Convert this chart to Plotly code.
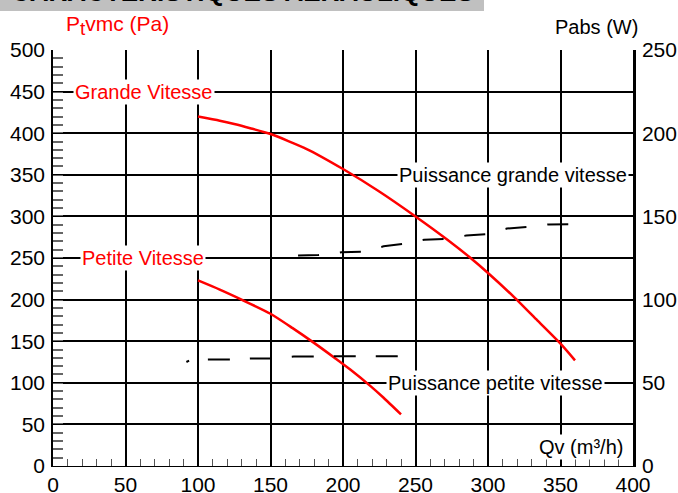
import plotly.graph_objects as go

# ---- data ----
flow_gv = [100, 115, 125, 136, 150, 175, 200, 225, 250, 272, 288, 300, 318, 334, 350, 360]
pt_gv = [420, 415, 411, 406, 399, 381, 357, 330, 300, 272, 250, 232, 203, 175, 147, 127]

flow_pv = [100, 115, 130, 150, 165, 180, 195, 205, 219, 228, 240]
pt_pv = [223, 212, 200, 183, 166, 148, 129, 116, 96, 82, 62]

flow_pw_gv = [169, 183, 199, 214, 228, 242, 256, 272, 285, 299, 313, 328, 342, 356]
pabs_gv = [126.5, 126.8, 128.5, 128.8, 132, 133.5, 136, 136.5, 138.5, 139.3, 142.7, 143.7, 145.2, 145.3]

flow_pw_pv = [92, 95, 108, 123, 137, 153, 166, 182, 195, 211, 223, 239]
pabs_pv = [62.5, 63.8, 64, 64, 64.6, 64.6, 65.8, 66, 66, 66, 66, 66]

x_ticks = [0, 50, 100, 150, 200, 250, 300, 350, 400]
y_ticks = [0, 50, 100, 150, 200, 250, 300, 350, 400, 450, 500]
y2_ticks = [0, 50, 100, 150, 200, 250]

FONT = "Liberation Sans, Arial, sans-serif"
RED = "#ff0000"

W, H = 678, 493
ML, MR, MT, MB = 53, 45, 50, 27
PW, PH = W - ML - MR, H - MT - MB


def px_to_paper_x(px):
    return (px - ML) / PW


def py_to_paper_y(py):
    return (H - MB - py) / PH


fig = go.Figure()
fig.add_trace(go.Scatter(x=flow_gv, y=pt_gv, mode="lines",
                         line=dict(color=RED, width=2.5, shape="spline", smoothing=0.6),
                         name="Grande Vitesse", showlegend=False))
fig.add_trace(go.Scatter(x=flow_pv, y=pt_pv, mode="lines",
                         line=dict(color=RED, width=2.5, shape="spline", smoothing=0.6),
                         name="Petite Vitesse", showlegend=False))
fig.add_trace(go.Scatter(x=flow_pw_gv, y=pabs_gv, mode="lines", yaxis="y2",
                         line=dict(color="black", width=2, dash="21px,21px"),
                         name="Puissance grande vitesse", showlegend=False))
fig.add_trace(go.Scatter(x=flow_pw_pv, y=pabs_pv, mode="lines", yaxis="y2",
                         line=dict(color="black", width=2,
                                   dash="3px,19px," + ",".join(["22px,20px"] * 6)),
                         name="Puissance petite vitesse", showlegend=False))


def label(text, x, y, color):
    return dict(x=x, y=y, xref="x", yref="y", text=text, showarrow=False,
                font=dict(family=FONT, size=20, color=color),
                bgcolor="white", borderpad=1, xanchor="center", yanchor="middle")


annotations = [
    label("Grande Vitesse", 62.5, 450, RED),
    label("Petite Vitesse", 62.3, 250, RED),
    label("Puissance grande vitesse", 317, 350, "black"),
    label("Puissance petite vitesse", 305, 100, "black"),
    label("Qv (m³/h)", 364, 23, "black"),
    dict(x=px_to_paper_x(64), y=py_to_paper_y(25), xref="paper", yref="paper",
         text="P<sub><span style='font-size:19px'>t</span></sub>vmc (Pa)",
         showarrow=False, xanchor="left", yanchor="middle",
         font=dict(family=FONT, size=21, color=RED)),
    dict(x=px_to_paper_x(596), y=py_to_paper_y(27), xref="paper", yref="paper",
         text="Pabs (W)",
         showarrow=False, xanchor="center", yanchor="middle",
         font=dict(family=FONT, size=20, color="black")),
    dict(x=px_to_paper_x(476), y=py_to_paper_y(9), xref="paper", yref="paper",
         text="<b>CARACTERISTIQUES AERAULIQUES</b>",
         showarrow=False, xanchor="right", yanchor="bottom",
         font=dict(family=FONT, size=26, color="black")),
]

shapes = [
    dict(type="rect", xref="paper", yref="paper", x0=px_to_paper_x(0), x1=px_to_paper_x(484),
         y0=py_to_paper_y(11), y1=py_to_paper_y(-20),
         fillcolor="#c0c0c0", line=dict(width=0), layer="below"),
]

TICKFONT = dict(family=FONT, size=21, color="black")

fig.update_layout(
    width=W, height=H,
    margin=dict(l=ML, r=MR, t=MT, b=MB, autoexpand=False),
    paper_bgcolor="white", plot_bgcolor="white",
    font=dict(family=FONT, size=20, color="black"),
    annotations=annotations, shapes=shapes,
    xaxis=dict(range=[0, 400], tickvals=x_ticks, ticktext=[str(v) for v in x_ticks],
               tickfont=TICKFONT,
               showgrid=True, gridcolor="black", gridwidth=2.2,
               showline=True, linecolor="black", linewidth=1.2,
               ticks="inside", ticklen=7, tickcolor="black", tickwidth=1,
               minor=dict(ticks="inside", dtick=10, ticklen=7, tickcolor="#555", tickwidth=1),
               zeroline=False, fixedrange=True, automargin=False),
    yaxis=dict(range=[0, 500], tickvals=y_ticks, ticktext=[str(v) for v in y_ticks],
               tickfont=TICKFONT,
               showgrid=True, gridcolor="black", gridwidth=2.2,
               showline=True, linecolor="black", linewidth=1.5,
               ticks="inside", ticklen=10, tickcolor="black", tickwidth=1,
               minor=dict(ticks="inside", dtick=10, ticklen=10, tickcolor="#666", tickwidth=1.5),
               ticklabelstandoff=2,
               zeroline=False, fixedrange=True, automargin=False),
    yaxis2=dict(range=[0, 250], tickvals=y2_ticks, ticktext=[str(v) for v in y2_ticks],
                tickfont=TICKFONT,
                overlaying="y", side="right", showgrid=False,
                showline=True, linecolor="black", linewidth=2.5,
                ticks="", ticklabelstandoff=2,
                zeroline=False, fixedrange=True, automargin=False),
)

fig.write_html("out.html",
               config={"displayModeBar": False},
               post_script="document.body.style.margin='0px';document.body.style.overflow='hidden';")
